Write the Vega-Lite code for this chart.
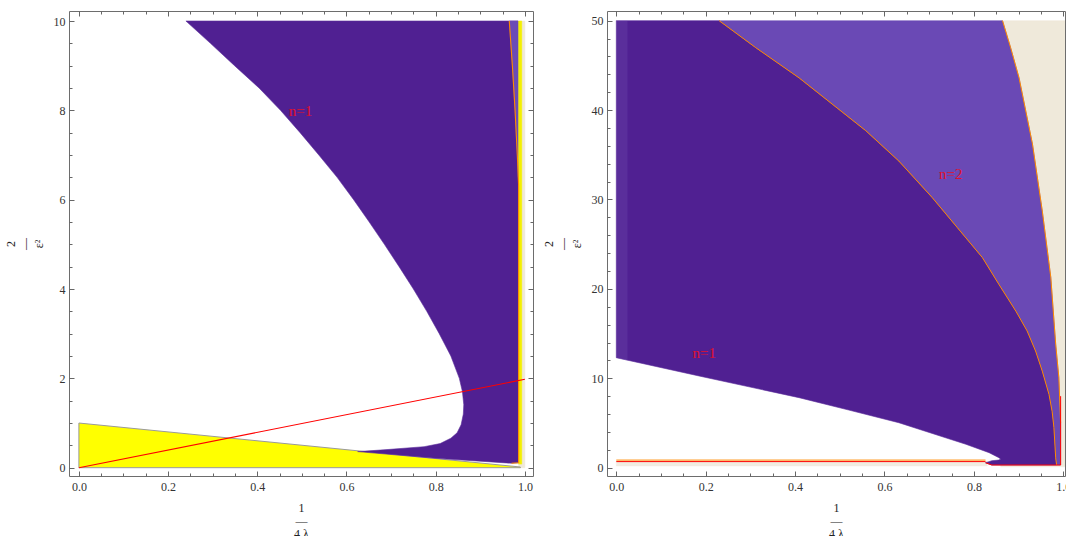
{
  "$schema": "https://vega.github.io/schema/vega-lite/v6.json",
  "background": "white",
  "padding": {"left": 3, "top": 10, "right": 0, "bottom": 0},
  "spacing": 7,
  "config": {
    "view": {"stroke": "#6d6d6d", "strokeWidth": 1},
    "axis": {
      "grid": false, "domain": false, "tickColor": "#666", "tickWidth": 1,
      "labelFont": "Liberation Serif", "labelFontSize": 12, "labelColor": "#333",
      "labelFlush": false, "labelOverlap": false,
      "titleFont": "Liberation Serif", "titleFontSize": 12, "titleFontWeight": "normal",
      "titleColor": "#222", "titleLineHeight": 13, "zindex": 1
    },
    "text": {"font": "Liberation Serif"}
  },
  "datasets": {
    "left": [
      {"shape": "beige", "i": 0, "x": 0.986, "y": 0.0},
      {"shape": "beige", "i": 1, "x": 0.986, "y": 10.0},
      {"shape": "beige", "i": 2, "x": 1.0, "y": 10.0},
      {"shape": "beige", "i": 3, "x": 1.0, "y": 0.0},
      {"shape": "yellow", "i": 0, "x": 0.0, "y": 0.0},
      {"shape": "yellow", "i": 1, "x": 0.0, "y": 1.0},
      {"shape": "yellow", "i": 2, "x": 0.99, "y": 0.015},
      {"shape": "yellow", "i": 3, "x": 0.99, "y": 0.0},
      {"shape": "purple", "i": 0, "x": 0.240, "y": 10.0},
      {"shape": "purple", "i": 1, "x": 0.985, "y": 10.0},
      {"shape": "purple", "i": 2, "x": 0.985, "y": 0.11},
      {"shape": "purple", "i": 3, "x": 0.97, "y": 0.10},
      {"shape": "purple", "i": 4, "x": 0.80, "y": 0.21},
      {"shape": "purple", "i": 5, "x": 0.625, "y": 0.36},
      {"shape": "purple", "i": 6, "x": 0.684, "y": 0.40},
      {"shape": "purple", "i": 7, "x": 0.774, "y": 0.47},
      {"shape": "purple", "i": 8, "x": 0.81, "y": 0.54},
      {"shape": "purple", "i": 9, "x": 0.834, "y": 0.66},
      {"shape": "purple", "i": 10, "x": 0.848, "y": 0.78},
      {"shape": "purple", "i": 11, "x": 0.857, "y": 0.96},
      {"shape": "purple", "i": 12, "x": 0.862, "y": 1.2},
      {"shape": "purple", "i": 13, "x": 0.863, "y": 1.41},
      {"shape": "purple", "i": 14, "x": 0.860, "y": 1.7},
      {"shape": "purple", "i": 15, "x": 0.853, "y": 2.0},
      {"shape": "purple", "i": 16, "x": 0.834, "y": 2.5},
      {"shape": "purple", "i": 17, "x": 0.808, "y": 3.0},
      {"shape": "purple", "i": 18, "x": 0.780, "y": 3.5},
      {"shape": "purple", "i": 19, "x": 0.750, "y": 4.0},
      {"shape": "purple", "i": 20, "x": 0.718, "y": 4.5},
      {"shape": "purple", "i": 21, "x": 0.685, "y": 5.0},
      {"shape": "purple", "i": 22, "x": 0.651, "y": 5.5},
      {"shape": "purple", "i": 23, "x": 0.616, "y": 6.0},
      {"shape": "purple", "i": 24, "x": 0.579, "y": 6.5},
      {"shape": "purple", "i": 25, "x": 0.538, "y": 7.0},
      {"shape": "purple", "i": 26, "x": 0.496, "y": 7.5},
      {"shape": "purple", "i": 27, "x": 0.452, "y": 8.0},
      {"shape": "purple", "i": 28, "x": 0.404, "y": 8.5},
      {"shape": "purple", "i": 29, "x": 0.349, "y": 9.0},
      {"shape": "purple", "i": 30, "x": 0.295, "y": 9.5},
      {"shape": "lav", "i": 0, "x": 0.965, "y": 10.0},
      {"shape": "lav", "i": 1, "x": 0.985, "y": 10.0},
      {"shape": "lav", "i": 2, "x": 0.985, "y": 6.5},
      {"shape": "lav", "i": 3, "x": 0.983, "y": 7.0},
      {"shape": "lav", "i": 4, "x": 0.978, "y": 8.0},
      {"shape": "lav", "i": 5, "x": 0.972, "y": 9.0},
      {"shape": "ystrip", "i": 0, "x": 0.986, "y": 0.08},
      {"shape": "ystrip", "i": 1, "x": 0.986, "y": 10.0},
      {"shape": "ystrip", "i": 2, "x": 0.993, "y": 10.0},
      {"shape": "ystrip", "i": 3, "x": 0.993, "y": 0.08},
      {"shape": "orange", "i": 0, "x": 0.965, "y": 10.0},
      {"shape": "orange", "i": 1, "x": 0.972, "y": 9.0},
      {"shape": "orange", "i": 2, "x": 0.978, "y": 8.0},
      {"shape": "orange", "i": 3, "x": 0.983, "y": 7.0},
      {"shape": "orange", "i": 4, "x": 0.986, "y": 6.3},
      {"shape": "orange", "i": 5, "x": 0.986, "y": 0.11},
      {"shape": "orange", "i": 6, "x": 0.97, "y": 0.10},
      {"shape": "red", "i": 0, "x": 0.0, "y": 0.0},
      {"shape": "red", "i": 1, "x": 1.0, "y": 1.98}
    ],
    "right": [
      {"shape": "beige", "i": 0, "x": 0.86, "y": 0.1},
      {"shape": "beige", "i": 1, "x": 0.86, "y": 50.0},
      {"shape": "beige", "i": 2, "x": 1.01, "y": 50.0},
      {"shape": "beige", "i": 3, "x": 1.01, "y": 0.1},
      {"shape": "beigelow", "i": 0, "x": 0.0, "y": 0.2},
      {"shape": "beigelow", "i": 1, "x": 0.0, "y": 0.75},
      {"shape": "beigelow", "i": 2, "x": 0.83, "y": 0.75},
      {"shape": "beigelow", "i": 3, "x": 0.83, "y": 0.2},
      {"shape": "n2", "i": 0, "x": 0.230, "y": 50.0},
      {"shape": "n2", "i": 1, "x": 0.864, "y": 50.0},
      {"shape": "n2", "i": 2, "x": 0.882, "y": 47.0},
      {"shape": "n2", "i": 3, "x": 0.901, "y": 43.6},
      {"shape": "n2", "i": 4, "x": 0.931, "y": 36.2},
      {"shape": "n2", "i": 5, "x": 0.953, "y": 28.7},
      {"shape": "n2", "i": 6, "x": 0.972, "y": 21.3},
      {"shape": "n2", "i": 7, "x": 0.983, "y": 13.8},
      {"shape": "n2", "i": 8, "x": 0.990, "y": 10.1},
      {"shape": "n2", "i": 9, "x": 0.994, "y": 5.0},
      {"shape": "n2", "i": 10, "x": 0.994, "y": 0.3},
      {"shape": "n2", "i": 11, "x": 0.985, "y": 0.3},
      {"shape": "n2", "i": 12, "x": 0.983, "y": 1.1},
      {"shape": "n2", "i": 13, "x": 0.979, "y": 4.5},
      {"shape": "n2", "i": 14, "x": 0.975, "y": 6.3},
      {"shape": "n2", "i": 15, "x": 0.968, "y": 8.2},
      {"shape": "n2", "i": 16, "x": 0.953, "y": 10.8},
      {"shape": "n2", "i": 17, "x": 0.938, "y": 13.05},
      {"shape": "n2", "i": 18, "x": 0.919, "y": 15.3},
      {"shape": "n2", "i": 19, "x": 0.894, "y": 17.5},
      {"shape": "n2", "i": 20, "x": 0.856, "y": 20.5},
      {"shape": "n2", "i": 21, "x": 0.819, "y": 23.5},
      {"shape": "n2", "i": 22, "x": 0.763, "y": 26.85},
      {"shape": "n2", "i": 23, "x": 0.707, "y": 30.2},
      {"shape": "n2", "i": 24, "x": 0.632, "y": 34.3},
      {"shape": "n2", "i": 25, "x": 0.558, "y": 37.7},
      {"shape": "n2", "i": 26, "x": 0.409, "y": 43.6},
      {"shape": "n2", "i": 27, "x": 0.312, "y": 46.98},
      {"shape": "n1", "i": 0, "x": 0.0, "y": 50.0},
      {"shape": "n1", "i": 1, "x": 0.230, "y": 50.0},
      {"shape": "n1", "i": 2, "x": 0.312, "y": 46.98},
      {"shape": "n1", "i": 3, "x": 0.409, "y": 43.6},
      {"shape": "n1", "i": 4, "x": 0.558, "y": 37.7},
      {"shape": "n1", "i": 5, "x": 0.632, "y": 34.3},
      {"shape": "n1", "i": 6, "x": 0.707, "y": 30.2},
      {"shape": "n1", "i": 7, "x": 0.763, "y": 26.85},
      {"shape": "n1", "i": 8, "x": 0.819, "y": 23.5},
      {"shape": "n1", "i": 9, "x": 0.856, "y": 20.5},
      {"shape": "n1", "i": 10, "x": 0.894, "y": 17.5},
      {"shape": "n1", "i": 11, "x": 0.919, "y": 15.3},
      {"shape": "n1", "i": 12, "x": 0.938, "y": 13.05},
      {"shape": "n1", "i": 13, "x": 0.953, "y": 10.8},
      {"shape": "n1", "i": 14, "x": 0.968, "y": 8.2},
      {"shape": "n1", "i": 15, "x": 0.975, "y": 6.3},
      {"shape": "n1", "i": 16, "x": 0.979, "y": 4.5},
      {"shape": "n1", "i": 17, "x": 0.983, "y": 1.1},
      {"shape": "n1", "i": 18, "x": 0.985, "y": 0.3},
      {"shape": "n1", "i": 19, "x": 0.84, "y": 0.3},
      {"shape": "n1", "i": 20, "x": 0.826, "y": 0.55},
      {"shape": "n1", "i": 21, "x": 0.84, "y": 0.78},
      {"shape": "n1", "i": 22, "x": 0.855, "y": 0.85},
      {"shape": "n1", "i": 23, "x": 0.860, "y": 0.95},
      {"shape": "n1", "i": 24, "x": 0.856, "y": 1.12},
      {"shape": "n1", "i": 25, "x": 0.834, "y": 1.68},
      {"shape": "n1", "i": 26, "x": 0.782, "y": 2.62},
      {"shape": "n1", "i": 27, "x": 0.632, "y": 5.03},
      {"shape": "n1", "i": 28, "x": 0.520, "y": 6.45},
      {"shape": "n1", "i": 29, "x": 0.409, "y": 7.83},
      {"shape": "n1", "i": 30, "x": 0.185, "y": 10.26},
      {"shape": "n1", "i": 31, "x": 0.0, "y": 12.3},
      {"shape": "edge", "i": 0, "x": 0.0, "y": 12.3},
      {"shape": "edge", "i": 1, "x": 0.0, "y": 50.0},
      {"shape": "edge", "i": 2, "x": 0.025, "y": 50.0},
      {"shape": "edge", "i": 3, "x": 0.025, "y": 12.0},
      {"shape": "orange", "i": 0, "x": 0.230, "y": 50.0},
      {"shape": "orange", "i": 1, "x": 0.312, "y": 46.98},
      {"shape": "orange", "i": 2, "x": 0.409, "y": 43.6},
      {"shape": "orange", "i": 3, "x": 0.558, "y": 37.7},
      {"shape": "orange", "i": 4, "x": 0.632, "y": 34.3},
      {"shape": "orange", "i": 5, "x": 0.707, "y": 30.2},
      {"shape": "orange", "i": 6, "x": 0.763, "y": 26.85},
      {"shape": "orange", "i": 7, "x": 0.819, "y": 23.5},
      {"shape": "orange", "i": 8, "x": 0.856, "y": 20.5},
      {"shape": "orange", "i": 9, "x": 0.894, "y": 17.5},
      {"shape": "orange", "i": 10, "x": 0.919, "y": 15.3},
      {"shape": "orange", "i": 11, "x": 0.938, "y": 13.05},
      {"shape": "orange", "i": 12, "x": 0.953, "y": 10.8},
      {"shape": "orange", "i": 13, "x": 0.968, "y": 8.2},
      {"shape": "orange", "i": 14, "x": 0.975, "y": 6.3},
      {"shape": "orange", "i": 15, "x": 0.979, "y": 4.5},
      {"shape": "orange", "i": 16, "x": 0.983, "y": 1.1},
      {"shape": "orange", "i": 17, "x": 0.985, "y": 0.3},
      {"shape": "yellowline", "i": 0, "x": 0.864, "y": 50.0},
      {"shape": "yellowline", "i": 1, "x": 0.882, "y": 47.0},
      {"shape": "yellowline", "i": 2, "x": 0.901, "y": 43.6},
      {"shape": "yellowline", "i": 3, "x": 0.931, "y": 36.2},
      {"shape": "yellowline", "i": 4, "x": 0.953, "y": 28.7},
      {"shape": "yellowline", "i": 5, "x": 0.972, "y": 21.3},
      {"shape": "yellowline", "i": 6, "x": 0.983, "y": 13.8},
      {"shape": "yellowline", "i": 7, "x": 0.990, "y": 10.1},
      {"shape": "yellowline", "i": 8, "x": 0.994, "y": 5.0},
      {"shape": "floor", "i": 0, "x": 0.0, "y": 0.68},
      {"shape": "floor", "i": 1, "x": 0.826, "y": 0.68},
      {"shape": "rim", "i": 0, "x": 0.0, "y": 0.85},
      {"shape": "rim", "i": 1, "x": 0.826, "y": 0.85},
      {"shape": "rim2", "i": 0, "x": 0.826, "y": 0.55},
      {"shape": "rim2", "i": 1, "x": 0.84, "y": 0.3},
      {"shape": "rim2", "i": 2, "x": 0.994, "y": 0.3},
      {"shape": "rim2", "i": 3, "x": 0.994, "y": 8.0}
    ],
    "labels": [
      {"panel": "left", "label": "n=1", "x": 0.497, "y": 7.99},
      {"panel": "right", "label": "n=1", "x": 0.197, "y": 12.86},
      {"panel": "right", "label": "n=2", "x": 0.748, "y": 32.9}
    ]
  },
  "hconcat": [
    {
      "width": 464,
      "height": 465,
      "resolve": {"scale": {"x": "independent", "y": "independent"}},
      "layer": [
        {
          "data": {"name": "left"},
          "transform": [{"filter": "datum.shape === 'beige'"}],
          "mark": {"type": "line", "interpolate": "linear-closed", "fill": "#EFE9DA", "stroke": "#EFE9DA", "strokeWidth": 0.5},
          "encoding": {
            "x": {"field": "x", "type": "quantitative", "scale": {"domain": [-0.0222, 1.0182], "nice": false, "zero": false},
              "axis": {"orient": "bottom", "values": [0, 0.2, 0.4, 0.6, 0.8, 1.0], "format": ".1f", "ticks": false, "labelPadding": 5, "title": ["1", "—", "4 λ"], "titlePadding": 10}},
            "y": {"field": "y", "type": "quantitative", "scale": {"domain": [-0.186, 10.224], "nice": false, "zero": false},
              "axis": {"orient": "left", "values": [0, 2, 4, 6, 8, 10], "format": "d", "ticks": false, "labelPadding": 4, "title": ["2", "—", "ε²"], "titlePadding": 8, "titleLineHeight": 14}},
            "order": {"field": "i", "type": "quantitative"}
          }
        },
        {
          "data": {"name": "left"},
          "transform": [{"filter": "datum.shape === 'yellow'"}],
          "mark": {"type": "line", "interpolate": "linear-closed", "fill": "#FFFF00", "stroke": "#9a9a9a", "strokeWidth": 1},
          "encoding": {
            "x": {"field": "x", "type": "quantitative", "scale": {"domain": [-0.0222, 1.0182], "nice": false, "zero": false},
              "axis": {"orient": "bottom", "values": [0, 0.2, 0.4, 0.6, 0.8, 1.0], "labels": false, "tickSize": -5, "title": null}},
            "y": {"field": "y", "type": "quantitative", "scale": {"domain": [-0.186, 10.224], "nice": false, "zero": false},
              "axis": {"orient": "left", "values": [0, 2, 4, 6, 8, 10], "labels": false, "tickSize": -5, "title": null}},
            "order": {"field": "i", "type": "quantitative"}
          }
        },
        {
          "data": {"name": "left"},
          "transform": [{"filter": "datum.shape === 'purple'"}],
          "mark": {"type": "line", "interpolate": "linear-closed", "fill": "#502092", "stroke": "#5a2c9a", "strokeWidth": 0.6},
          "encoding": {
            "x": {"field": "x", "type": "quantitative", "scale": {"domain": [-0.0222, 1.0182], "nice": false, "zero": false},
              "axis": {"orient": "bottom", "values": [0.05, 0.1, 0.15, 0.25, 0.3, 0.35, 0.45, 0.5, 0.55, 0.65, 0.7, 0.75, 0.85, 0.9, 0.95], "labels": false, "tickSize": -3, "title": null}},
            "y": {"field": "y", "type": "quantitative", "scale": {"domain": [-0.186, 10.224], "nice": false, "zero": false},
              "axis": {"orient": "left", "values": [0.5, 1, 1.5, 2.5, 3, 3.5, 4.5, 5, 5.5, 6.5, 7, 7.5, 8.5, 9, 9.5], "labels": false, "tickSize": -3, "title": null}},
            "order": {"field": "i", "type": "quantitative"}
          }
        },
        {
          "data": {"name": "left"},
          "transform": [{"filter": "datum.shape === 'lav'"}],
          "mark": {"type": "line", "interpolate": "linear-closed", "fill": "#6B4BB6", "stroke": "#6B4BB6", "strokeWidth": 0.5},
          "encoding": {
            "x": {"field": "x", "type": "quantitative", "scale": {"domain": [-0.0222, 1.0182], "nice": false, "zero": false},
              "axis": {"orient": "top", "values": [0, 0.2, 0.4, 0.6, 0.8, 1.0], "labels": false, "tickSize": -5, "title": null}},
            "y": {"field": "y", "type": "quantitative", "scale": {"domain": [-0.186, 10.224], "nice": false, "zero": false},
              "axis": {"orient": "right", "values": [0, 2, 4, 6, 8, 10], "labels": false, "tickSize": -5, "title": null}},
            "order": {"field": "i", "type": "quantitative"}
          }
        },
        {
          "data": {"name": "left"},
          "transform": [{"filter": "datum.shape === 'ystrip'"}],
          "mark": {"type": "line", "interpolate": "linear-closed", "fill": "#F4F000", "stroke": "#F4F000", "strokeWidth": 0.5},
          "encoding": {
            "x": {"field": "x", "type": "quantitative", "scale": {"domain": [-0.0222, 1.0182], "nice": false, "zero": false},
              "axis": {"orient": "top", "values": [0.05, 0.1, 0.15, 0.25, 0.3, 0.35, 0.45, 0.5, 0.55, 0.65, 0.7, 0.75, 0.85, 0.9, 0.95], "labels": false, "tickSize": -3, "title": null}},
            "y": {"field": "y", "type": "quantitative", "scale": {"domain": [-0.186, 10.224], "nice": false, "zero": false},
              "axis": {"orient": "right", "values": [0.5, 1, 1.5, 2.5, 3, 3.5, 4.5, 5, 5.5, 6.5, 7, 7.5, 8.5, 9, 9.5], "labels": false, "tickSize": -3, "title": null}},
            "order": {"field": "i", "type": "quantitative"}
          }
        },
        {
          "data": {"name": "left"},
          "transform": [{"filter": "datum.shape === 'orange' || datum.shape === 'red'"}],
          "mark": {"type": "line", "strokeWidth": 1.1},
          "encoding": {
            "x": {"field": "x", "type": "quantitative", "scale": {"domain": [-0.0222, 1.0182], "nice": false, "zero": false}, "axis": null},
            "y": {"field": "y", "type": "quantitative", "scale": {"domain": [-0.186, 10.224], "nice": false, "zero": false}, "axis": null},
            "color": {"field": "shape", "type": "nominal", "scale": {"domain": ["orange", "red"], "range": ["#FF8A00", "#FF0000"]}, "legend": null},
            "order": {"field": "i", "type": "quantitative"}
          }
        },
        {
          "data": {"name": "labels"},
          "transform": [{"filter": "datum.panel === 'left'"}],
          "mark": {"type": "text", "color": "#E0102C", "fontSize": 15, "font": "Liberation Serif", "align": "center", "baseline": "middle"},
          "encoding": {
            "x": {"field": "x", "type": "quantitative", "scale": {"domain": [-0.0222, 1.0182], "nice": false, "zero": false}, "axis": null},
            "y": {"field": "y", "type": "quantitative", "scale": {"domain": [-0.186, 10.224], "nice": false, "zero": false}, "axis": null},
            "text": {"field": "label"}
          }
        }
      ]
    },
    {
      "width": 458,
      "height": 465,
      "resolve": {"scale": {"x": "independent", "y": "independent"}},
      "layer": [
        {
          "data": {"name": "right"},
          "transform": [{"filter": "datum.shape === 'beige'"}],
          "mark": {"type": "line", "interpolate": "linear-closed", "fill": "#EFE9DA", "stroke": "#EFE9DA", "strokeWidth": 0.5, "clip": true},
          "encoding": {
            "x": {"field": "x", "type": "quantitative", "scale": {"domain": [-0.0208, 1.0038], "nice": false, "zero": false},
              "axis": {"orient": "bottom", "values": [0, 0.2, 0.4, 0.6, 0.8, 1.0], "format": ".1f", "ticks": false, "labelPadding": 5, "title": ["1", "—", "4 λ"], "titlePadding": 10}},
            "y": {"field": "y", "type": "quantitative", "scale": {"domain": [-0.93, 51.08], "nice": false, "zero": false},
              "axis": {"orient": "left", "values": [0, 10, 20, 30, 40, 50], "format": "d", "ticks": false, "labelPadding": 4, "title": ["2", "—", "ε²"], "titlePadding": 8, "titleLineHeight": 14}},
            "order": {"field": "i", "type": "quantitative"}
          }
        },
        {
          "data": {"name": "right"},
          "transform": [{"filter": "datum.shape === 'beigelow'"}],
          "mark": {"type": "line", "interpolate": "linear-closed", "fill": "#F1EDE2", "stroke": "#F1EDE2", "strokeWidth": 0.5},
          "encoding": {
            "x": {"field": "x", "type": "quantitative", "scale": {"domain": [-0.0208, 1.0038], "nice": false, "zero": false},
              "axis": {"orient": "bottom", "values": [0, 0.2, 0.4, 0.6, 0.8, 1.0], "labels": false, "tickSize": -5, "title": null}},
            "y": {"field": "y", "type": "quantitative", "scale": {"domain": [-0.93, 51.08], "nice": false, "zero": false},
              "axis": {"orient": "left", "values": [0, 10, 20, 30, 40, 50], "labels": false, "tickSize": -5, "title": null}},
            "order": {"field": "i", "type": "quantitative"}
          }
        },
        {
          "data": {"name": "right"},
          "transform": [{"filter": "datum.shape === 'n2'"}],
          "mark": {"type": "line", "interpolate": "linear-closed", "fill": "#6A49B5", "stroke": "#6A49B5", "strokeWidth": 0.5},
          "encoding": {
            "x": {"field": "x", "type": "quantitative", "scale": {"domain": [-0.0208, 1.0038], "nice": false, "zero": false},
              "axis": {"orient": "bottom", "values": [0.05, 0.1, 0.15, 0.25, 0.3, 0.35, 0.45, 0.5, 0.55, 0.65, 0.7, 0.75, 0.85, 0.9, 0.95], "labels": false, "tickSize": -3, "title": null}},
            "y": {"field": "y", "type": "quantitative", "scale": {"domain": [-0.93, 51.08], "nice": false, "zero": false},
              "axis": {"orient": "left", "values": [2, 4, 6, 8, 12, 14, 16, 18, 22, 24, 26, 28, 32, 34, 36, 38, 42, 44, 46, 48], "labels": false, "tickSize": -3, "title": null}},
            "order": {"field": "i", "type": "quantitative"}
          }
        },
        {
          "data": {"name": "right"},
          "transform": [{"filter": "datum.shape === 'n1'"}],
          "mark": {"type": "line", "interpolate": "linear-closed", "fill": "#502092", "stroke": "#5a2c9a", "strokeWidth": 0.6},
          "encoding": {
            "x": {"field": "x", "type": "quantitative", "scale": {"domain": [-0.0208, 1.0038], "nice": false, "zero": false},
              "axis": {"orient": "top", "values": [0, 0.2, 0.4, 0.6, 0.8, 1.0], "labels": false, "tickSize": -5, "title": null}},
            "y": {"field": "y", "type": "quantitative", "scale": {"domain": [-0.93, 51.08], "nice": false, "zero": false}, "axis": null},
            "order": {"field": "i", "type": "quantitative"}
          }
        },
        {
          "data": {"name": "right"},
          "transform": [{"filter": "datum.shape === 'edge'"}],
          "mark": {"type": "line", "interpolate": "linear-closed", "fill": "#8a70c8", "fillOpacity": 0.18, "strokeWidth": 0},
          "encoding": {
            "x": {"field": "x", "type": "quantitative", "scale": {"domain": [-0.0208, 1.0038], "nice": false, "zero": false},
              "axis": {"orient": "top", "values": [0.05, 0.1, 0.15, 0.25, 0.3, 0.35, 0.45, 0.5, 0.55, 0.65, 0.7, 0.75, 0.85, 0.9, 0.95], "labels": false, "tickSize": -3, "title": null}},
            "y": {"field": "y", "type": "quantitative", "scale": {"domain": [-0.93, 51.08], "nice": false, "zero": false}, "axis": null},
            "order": {"field": "i", "type": "quantitative"}
          }
        },
        {
          "data": {"name": "right"},
          "transform": [{"filter": "indexof(['orange','yellowline','floor','rim','rim2'], datum.shape) >= 0"}],
          "mark": {"type": "line", "strokeWidth": 1},
          "encoding": {
            "x": {"field": "x", "type": "quantitative", "scale": {"domain": [-0.0208, 1.0038], "nice": false, "zero": false}, "axis": null},
            "y": {"field": "y", "type": "quantitative", "scale": {"domain": [-0.93, 51.08], "nice": false, "zero": false}, "axis": null},
            "color": {"field": "shape", "type": "nominal", "scale": {"domain": ["orange", "yellowline", "floor", "rim", "rim2"], "range": ["#FF8A00", "#FFF200", "#FFD84A", "#FF9A10", "#FFA020"]}, "legend": null},
            "order": {"field": "i", "type": "quantitative"}
          }
        },
        {
          "data": {"name": "labels"},
          "transform": [{"filter": "datum.panel === 'right'"}],
          "mark": {"type": "text", "color": "#E0102C", "fontSize": 15, "font": "Liberation Serif", "align": "center", "baseline": "middle"},
          "encoding": {
            "x": {"field": "x", "type": "quantitative", "scale": {"domain": [-0.0208, 1.0038], "nice": false, "zero": false}, "axis": null},
            "y": {"field": "y", "type": "quantitative", "scale": {"domain": [-0.93, 51.08], "nice": false, "zero": false}, "axis": null},
            "text": {"field": "label"}
          }
        }
      ]
    }
  ]
}
